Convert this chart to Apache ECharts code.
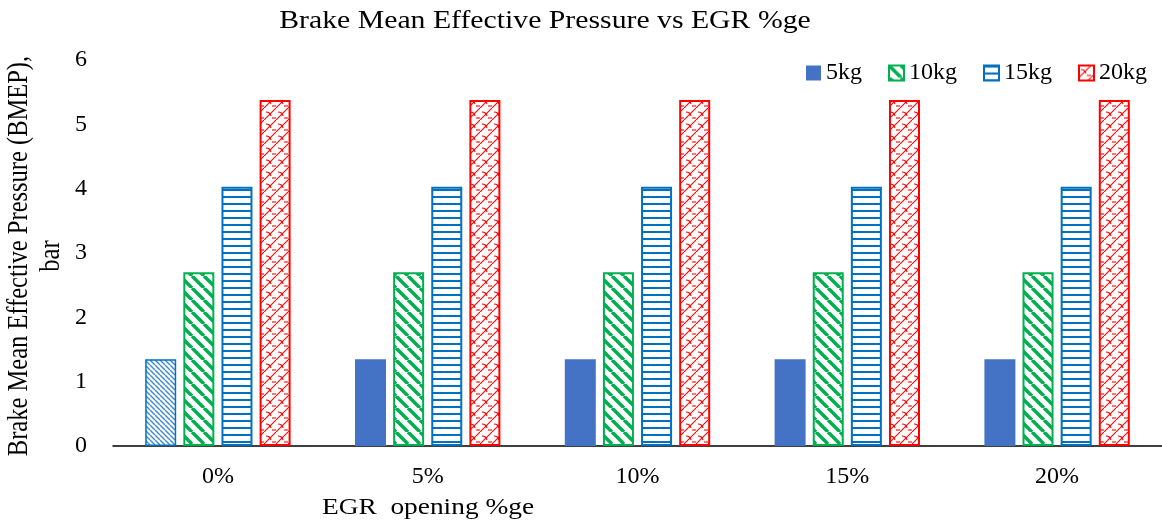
<!DOCTYPE html>
<html>
<head>
<meta charset="utf-8">
<script src="https://cdn.jsdelivr.net/npm/echarts@6/dist/echarts.min.js"></script>
<style>html,body{margin:0;padding:0;background:#fff}#c{width:1162px;height:525px}</style>
</head>
<body>
<div id="c"></div>
<script>
const categories = ['0%', '5%', '10%', '15%', '20%'];
const seriesNames = ['5kg', '10kg', '15kg', '20kg'];
const v5kg = [1.35, 1.35, 1.35, 1.35, 1.35];
const v10kg = [2.70, 2.70, 2.70, 2.70, 2.70];
const v15kg = [4.03, 4.03, 4.03, 4.03, 4.03];
const v20kg = [5.38, 5.38, 5.38, 5.38, 5.38];
const yTicks = [0, 1, 2, 3, 4, 5, 6];

const FONT = '"Liberation Serif", "Times New Roman", serif';

function tile(w, h, draw) {
  const c = document.createElement('canvas');
  c.width = w; c.height = h;
  const ctx = c.getContext('2d');
  ctx.fillStyle = '#fff';
  ctx.fillRect(0, 0, w, h);
  draw(ctx, w, h);
  return c;
}
function diagBack(ctx, w, h, color, lw) {
  ctx.strokeStyle = color; ctx.lineWidth = lw;
  for (let k = -1; k <= 1; k++) {
    ctx.beginPath(); ctx.moveTo(k * w, 0); ctx.lineTo(k * w + w, h); ctx.stroke();
  }
}
const pGreen = tile(12, 12, (ctx, w, h) => diagBack(ctx, w, h, '#00B050', 3.5));
const pBlueH = tile(8, 7, (ctx, w, h) => { ctx.fillStyle = '#0070C0'; ctx.fillRect(0, 0, w, 2); });
const pBlueFine = tile(5, 5, (ctx, w, h) => diagBack(ctx, w, h, '#3d8ad0', 1.4));
const pRed = tile(12, 12, (ctx, w, h) => {
  ctx.strokeStyle = '#FF0000'; ctx.lineWidth = 1.1;
  ctx.beginPath(); ctx.moveTo(0, 12); ctx.lineTo(12, 0); ctx.stroke();
  ctx.beginPath(); ctx.moveTo(2, 4); ctx.quadraticCurveTo(6, 4, 7, 8); ctx.stroke();
  ctx.beginPath(); ctx.moveTo(8, 10); ctx.lineTo(12, 10); ctx.stroke();
});

const pat = (img) => ({ image: img, repeat: 'repeat' });

const data5 = v5kg.map((v, i) => i === 0
  ? { value: v, itemStyle: { color: pat(pBlueFine), borderColor: '#0070C0', borderWidth: 1.5 } }
  : v);

const chart = echarts.init(document.getElementById('c'));
chart.setOption({
  animation: false,
  backgroundColor: '#fff',
  legend: {
    right: 10, top: 56, icon: 'rect',
    itemWidth: 15, itemHeight: 15, itemGap: 26,
    textStyle: { fontFamily: FONT, fontSize: 24, color: '#000' },
    data: seriesNames
  },
  grid: { left: 113, top: 60, width: 1050, bottom: 79, containLabel: false },
  xAxis: {
    type: 'category', data: categories,
    axisLine: { lineStyle: { color: '#000', width: 1.5 } },
    axisTick: { show: false },
    axisLabel: { fontFamily: FONT, fontSize: 24, color: '#000', margin: 19 }
  },
  yAxis: {
    type: 'value', min: yTicks[0], max: yTicks[yTicks.length - 1], interval: 1,
    axisLine: { show: false }, axisTick: { show: false }, splitLine: { show: false },
    axisLabel: { fontFamily: FONT, fontSize: 24, color: '#000', margin: 26 }
  },
  graphic: [
    {
      type: 'text', x: 545, y: 21, scaleX: 1.19,
      style: {
        text: 'Brake Mean Effective Pressure vs EGR %ge',
        font: '25px ' + FONT, fill: '#000', align: 'center', verticalAlign: 'middle'
      }
    },
    {
      type: 'text', x: 35, y: 256, rotation: Math.PI / 2, scaleY: 1.19,
      style: {
        text: 'Brake Mean Effective Pressure (BMEP),\nbar',
        font: '24.5px ' + FONT, fill: '#000', align: 'center', verticalAlign: 'middle', lineHeight: 27
      }
    },
    {
      type: 'text', x: 428, y: 508, scaleX: 1.19,
      style: { text: 'EGR  opening %ge', font: '23px ' + FONT, fill: '#000', align: 'center', verticalAlign: 'middle' }
    }
  ],
  series: [
    { name: seriesNames[0], type: 'bar', data: data5, barWidth: 31, barGap: '23%',
      itemStyle: { color: '#4472C4' } },
    { name: seriesNames[1], type: 'bar', data: v10kg, barWidth: 31, barGap: '23%',
      itemStyle: { color: pat(pGreen), borderColor: '#00B050', borderWidth: 2 } },
    { name: seriesNames[2], type: 'bar', data: v15kg, barWidth: 31, barGap: '23%',
      itemStyle: { color: pat(pBlueH), borderColor: '#0070C0', borderWidth: 2 } },
    { name: seriesNames[3], type: 'bar', data: v20kg, barWidth: 31, barGap: '23%',
      itemStyle: { color: pat(pRed), borderColor: '#FF0000', borderWidth: 2 } }
  ]
});
</script>
</body>
</html>
